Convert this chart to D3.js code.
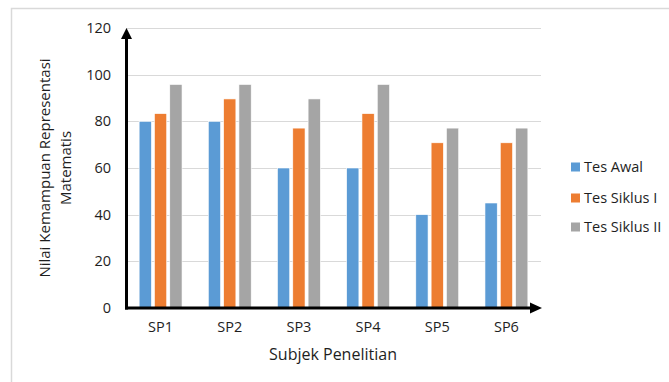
<!DOCTYPE html>
<html><head><meta charset="utf-8">
<script src="https://cdn.jsdelivr.net/npm/d3@7"></script>
<style>body{margin:0;background:#fff}svg{display:block}text{font-family:"Open Sans",sans-serif;fill:#1e1e1e}</style>
</head><body><svg id="c" width="669" height="382"></svg>
<script>
const categories = ["SP1","SP2","SP3","SP4","SP5","SP6"];
const seriesNames = ["Tes Awal","Tes Siklus I","Tes Siklus II"];
const tesAwal = [80,80,60,60,40,45];
const tesSiklus1 = [83.3,89.6,77.1,83.3,70.8,70.8];
const tesSiklus2 = [95.8,95.8,89.6,95.8,77.1,77.1];
const yTicks = [0,20,40,60,80,100,120];
const colors = ["#5B9BD5","#ED7D31","#A5A5A5"];
const seriesValues = [tesAwal,tesSiklus1,tesSiklus2];

const svg = d3.select("#c");
svg.append("rect").attr("x",11.5).attr("y",8.5).attr("width",700).attr("height",400)
  .attr("fill","#fff").attr("stroke","#d9d9d9").attr("stroke-width",1.5);

const pL=126,pR=541,pT=28,pB=308;
const y = d3.scaleLinear().domain([0,120]).range([pB,pT]);
const x0 = d3.scaleBand().domain(categories).range([pL,pR]).paddingInner(0.38).paddingOuter(0.19);
const x1 = d3.scaleBand().domain(seriesNames).range([0,x0.bandwidth()]).paddingInner(0.2);

// gridlines
svg.append("g").selectAll("line").data(yTicks.filter(d=>d>0)).join("line")
  .attr("x1",pL).attr("x2",pR).attr("y1",d=>Math.round(y(d))+0.5).attr("y2",d=>Math.round(y(d))+0.5)
  .attr("stroke","#d9d9d9").attr("stroke-width",1);

// y tick labels
const yAxis = d3.axisLeft(y).tickValues(yTicks).tickSize(0).tickPadding(15);
const ga = svg.append("g").attr("transform",`translate(${pL},0)`).call(yAxis);
ga.select(".domain").remove();
ga.selectAll("text").attr("font-size",14.5).attr("font-family","Open Sans").attr("fill","#1e1e1e");

// bars
const g = svg.append("g");
categories.forEach((c,i)=>{
  seriesNames.forEach((s,j)=>{
    g.append("rect").attr("x",x0(c)+x1(s)).attr("width",x1.bandwidth())
      .attr("y",y(seriesValues[j][i])).attr("height",pB-y(seriesValues[j][i]))
      .attr("fill",colors[j]).attr("stroke","#fff").attr("stroke-width",0.6);
  });
});

// x labels
const xAxis = d3.axisBottom(x0).tickSize(0).tickPadding(14);
const gx = svg.append("g").attr("transform",`translate(0,${pB})`).call(xAxis);
gx.select(".domain").remove();
gx.selectAll("text").attr("font-size",14.5).attr("font-family","Open Sans").attr("fill","#1e1e1e");

// axes with arrows
svg.append("line").attr("x1",126.5).attr("x2",126.5).attr("y1",pB+1.5).attr("y2",pT+10).attr("stroke","#000").attr("stroke-width",3);
svg.append("path").attr("d",`M126.5,${pT} L121,${pT+11} L132,${pT+11} Z`).attr("fill","#000");
svg.append("line").attr("x1",125).attr("x2",pR-10).attr("y1",pB).attr("y2",pB).attr("stroke","#000").attr("stroke-width",3);
svg.append("path").attr("d",`M${pR+1},${pB} L${pR-11},${pB-5.5} L${pR-11},${pB+5.5} Z`).attr("fill","#000");

// axis titles
svg.append("text").attr("x",333).attr("y",360).attr("text-anchor","middle").attr("font-size",16).text("Subjek Penelitian");
const yt = svg.append("text").attr("transform",`translate(50,168) rotate(-90)`).attr("text-anchor","middle").attr("font-size",15);
yt.append("tspan").attr("x",0).attr("dy",0).text("Nilai Kemampuan Representasi");
yt.append("tspan").attr("x",0).attr("dy",21).text("Matematis");

// legend
const lg = svg.append("g");
const ly=[167,198,227];
seriesNames.forEach((s,j)=>{
  lg.append("rect").attr("x",571).attr("y",ly[j]-4.5).attr("width",9).attr("height",9).attr("fill",colors[j]);
  lg.append("text").attr("x",584).attr("y",ly[j]).attr("dy","0.35em").attr("font-size",14.5).text(s);
});
</script></body></html>
